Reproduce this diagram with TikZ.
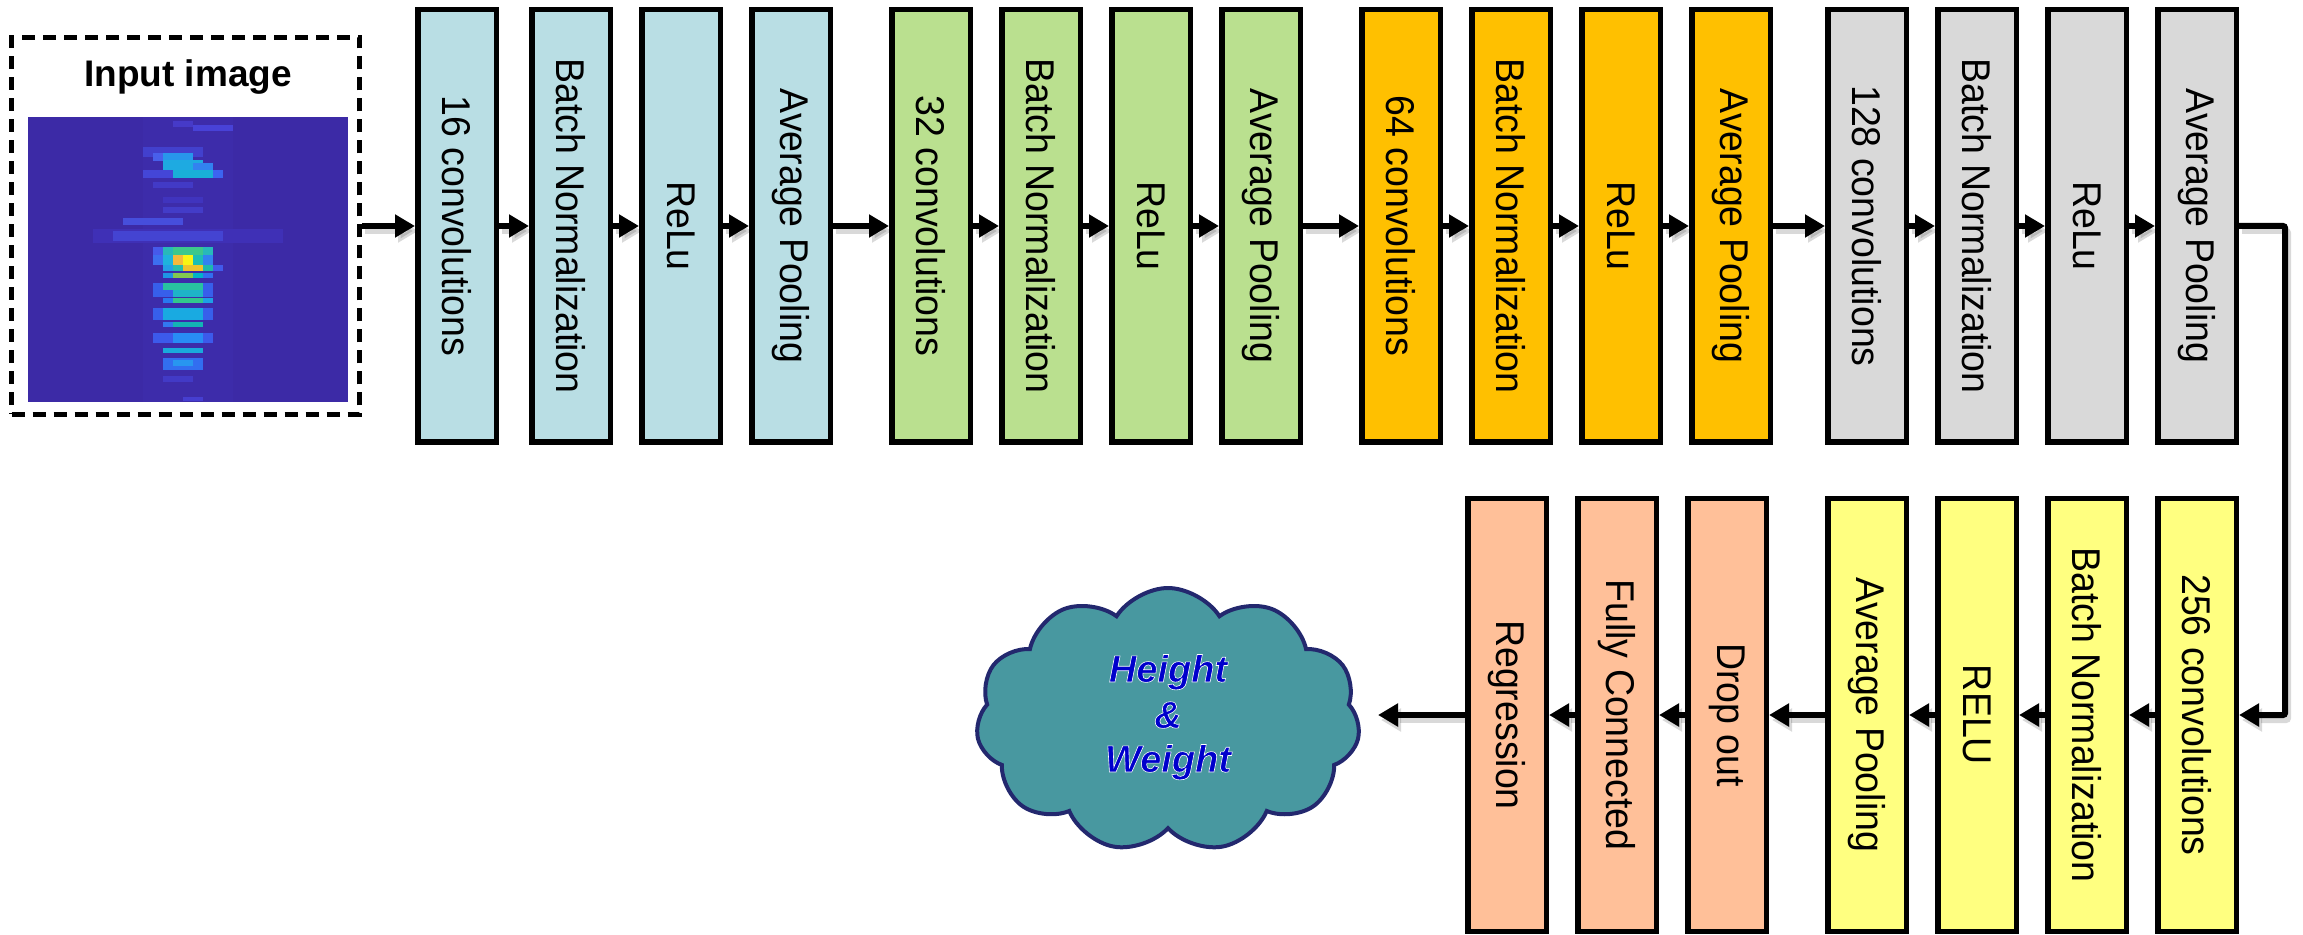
\documentclass[tikz,border=0pt]{standalone}
\usepackage{fontspec}
\usepackage{graphicx}
\setmainfont{Liberation Sans}
\usetikzlibrary{arrows.meta,shapes.symbols}

% layer fills
\definecolor{convA}{RGB}{185,222,228}
\definecolor{convB}{RGB}{186,224,143}
\definecolor{convC}{RGB}{255,192,0}
\definecolor{convD}{RGB}{217,217,217}
\definecolor{convE}{RGB}{255,255,128}
\definecolor{headF}{RGB}{255,192,153}
\definecolor{cloudfill}{RGB}{72,152,160}
\definecolor{cloudline}{RGB}{35,40,110}
\definecolor{outtext}{RGB}{0,0,204}

\newcommand\turnedtext[1]{\rotatebox{-90}{\scalebox{1}[1.07]{#1}}}
% glyphs filled in the current colour and outlined in white
\newcommand\haloed[1]{\special{pdf:literal direct 2 Tr 0.3 w 1 1 1 RG}#1\special{pdf:literal direct 0 Tr}}
% one cell of the heat map: x, y, w, h, r, g, b
\newcommand\hm[7]{\fill[fill={rgb,255:red,#5;green,#6;blue,#7}] (#1,#2) rectangle ++(#3,#4);}

\tikzset{
  layer/.style={draw=black, line width=2.75pt, minimum width=39.25pt,
    minimum height=216.25pt, inner sep=0pt,
    font=\fontsize{18.75}{22}\selectfont},
  flow/.style={line width=3pt, -{Triangle[length=10pt,width=11pt]},
    preaction={draw=black, opacity=0.15, line width=3pt,
      transform canvas={shift={(1.5pt,-2.5pt)}}}},
  outlabel/.style={anchor=base, text=outtext,
    font=\bfseries\itshape\fontsize{19}{22}\selectfont},
}

\begin{document}
\begin{tikzpicture}[x=0.5pt, y=-0.5pt]
\useasboundingbox (0,0) rectangle (2303,935);

% ---- input image ----
\node[draw, line width=2.5pt, dash pattern=on 6.5pt off 4pt,
      minimum width=174pt, minimum height=188.5pt, inner sep=0pt] (in) at (185.5,226) {};
\node[anchor=base, font=\bfseries\fontsize{18.5}{22}\selectfont] (title) at (188,87) {Input image};

\hm{28}{117}{320}{285}{60}{42}{166}
\hm{143}{117}{90}{285}{61}{44}{170}
\hm{173}{121}{20}{6}{70}{58}{200}
\hm{193}{125}{40}{6}{72}{66}{215}
\hm{143}{147}{60}{10}{66}{64}{205}
\hm{153}{153}{20}{8}{72}{95}{235}
\hm{163}{153}{30}{12}{40}{150}{235}
\hm{163}{160}{40}{10}{30}{170}{225}
\hm{193}{163}{20}{7}{50}{130}{240}
\hm{143}{170}{30}{8}{68}{70}{215}
\hm{173}{170}{40}{8}{25}{175}{215}
\hm{213}{170}{10}{8}{60}{100}{240}
\hm{153}{182}{40}{6}{66}{58}{198}
\hm{163}{197}{40}{6}{64}{52}{190}
\hm{163}{207}{40}{6}{67}{60}{200}
\hm{123}{218}{60}{7}{70}{78}{220}
\hm{93}{229}{190}{14}{63}{48}{182}
\hm{113}{231}{110}{10}{68}{68}{210}
\hm{153}{247}{60}{8}{70}{90}{235}
\hm{163}{247}{50}{8}{40}{185}{185}
\hm{173}{247}{30}{8}{60}{200}{140}
\hm{153}{255}{10}{10}{60}{110}{240}
\hm{163}{255}{10}{10}{30}{180}{220}
\hm{173}{255}{10}{10}{245}{185}{60}
\hm{183}{255}{10}{10}{250}{245}{20}
\hm{193}{255}{10}{10}{30}{190}{180}
\hm{203}{255}{10}{10}{50}{130}{240}
\hm{163}{265}{10}{6}{35}{160}{230}
\hm{173}{265}{10}{6}{40}{190}{170}
\hm{183}{265}{20}{6}{240}{195}{45}
\hm{203}{265}{10}{6}{30}{185}{170}
\hm{213}{265}{10}{6}{65}{90}{235}
\hm{163}{273}{10}{5}{30}{150}{230}
\hm{173}{273}{20}{5}{130}{200}{80}
\hm{193}{273}{10}{5}{0}{180}{200}
\hm{203}{273}{10}{5}{50}{110}{240}
\hm{153}{283}{60}{14}{55}{95}{235}
\hm{163}{283}{40}{7}{40}{195}{160}
\hm{173}{290}{30}{7}{30}{180}{200}
\hm{163}{298}{10}{5}{40}{120}{240}
\hm{173}{298}{30}{5}{50}{200}{140}
\hm{203}{298}{10}{5}{30}{160}{230}
\hm{153}{308}{60}{12}{55}{95}{235}
\hm{163}{308}{40}{12}{25}{170}{225}
\hm{163}{322}{10}{5}{50}{120}{240}
\hm{173}{322}{30}{5}{20}{180}{180}
\hm{153}{333}{60}{10}{60}{90}{235}
\hm{173}{333}{30}{10}{40}{140}{245}
\hm{163}{348}{40}{5}{25}{170}{220}
\hm{163}{358}{40}{12}{50}{110}{240}
\hm{173}{360}{20}{6}{40}{150}{240}
\hm{163}{376}{30}{6}{66}{58}{198}
\hm{183}{397}{20}{4}{70}{62}{208}

% ---- top row ----
\node[layer, fill=convA] (a1) at (457,226)  {\turnedtext{16 convolutions}};
\node[layer, fill=convA] (a2) at (571,226)  {\turnedtext{Batch Normalization}};
\node[layer, fill=convA] (a3) at (681,226)  {\turnedtext{ReLu}};
\node[layer, fill=convA] (a4) at (791,226)  {\turnedtext{Average Pooling}};
\node[layer, fill=convB] (b1) at (931,226)  {\turnedtext{32 convolutions}};
\node[layer, fill=convB] (b2) at (1041,226) {\turnedtext{Batch Normalization}};
\node[layer, fill=convB] (b3) at (1151,226) {\turnedtext{ReLu}};
\node[layer, fill=convB] (b4) at (1261,226) {\turnedtext{Average Pooling}};
\node[layer, fill=convC] (c1) at (1401,226) {\turnedtext{64 convolutions}};
\node[layer, fill=convC] (c2) at (1511,226) {\turnedtext{Batch Normalization}};
\node[layer, fill=convC] (c3) at (1621,226) {\turnedtext{ReLu}};
\node[layer, fill=convC] (c4) at (1731,226) {\turnedtext{Average Pooling}};
\node[layer, fill=convD] (d1) at (1867,226) {\turnedtext{128 convolutions}};
\node[layer, fill=convD] (d2) at (1977,226) {\turnedtext{Batch Normalization}};
\node[layer, fill=convD] (d3) at (2087,226) {\turnedtext{ReLu}};
\node[layer, fill=convD] (d4) at (2197,226) {\turnedtext{Average Pooling}};

% ---- bottom row ----
\node[layer, fill=convE] (e1) at (2197,715) {\turnedtext{256 convolutions}};
\node[layer, fill=convE] (e2) at (2087,715) {\turnedtext{Batch Normalization}};
\node[layer, fill=convE] (e3) at (1977,715) {\turnedtext{RELU}};
\node[layer, fill=convE] (e4) at (1867,715) {\turnedtext{Average Pooling}};
\node[layer, fill=headF] (f1) at (1727,715) {\turnedtext{Drop out}};
\node[layer, fill=headF] (f2) at (1617,715) {\turnedtext{Fully Connected}};
\node[layer, fill=headF] (f3) at (1507,715) {\turnedtext{Regression}};

% ---- output cloud ----
\node[cloud, cloud puffs=11, cloud puff arc=115, aspect=1.45, draw=cloudline,
      line width=2pt, fill=cloudfill, minimum width=192pt, minimum height=132pt,
      inner sep=0pt] (cloud) at (1168,720) {};
\node[outlabel] (h1) at (1168,682) {\haloed{Height}};
\node[outlabel] (h2) at (1168,728) {\haloed{\&}};
\node[outlabel] (h3) at (1168,772) {\haloed{Weight}};

% ---- connectors ----
\draw[flow] (in) -- (a1);
\draw[flow] (a1) -- (a2);
\draw[flow] (a2) -- (a3);
\draw[flow] (a3) -- (a4);
\draw[flow] (a4) -- (b1);
\draw[flow] (b1) -- (b2);
\draw[flow] (b2) -- (b3);
\draw[flow] (b3) -- (b4);
\draw[flow] (b4) -- (c1);
\draw[flow] (c1) -- (c2);
\draw[flow] (c2) -- (c3);
\draw[flow] (c3) -- (c4);
\draw[flow] (c4) -- (d1);
\draw[flow] (d1) -- (d2);
\draw[flow] (d2) -- (d3);
\draw[flow] (d3) -- (d4);
\draw[flow, rounded corners=1pt] (d4.east) -- ++(46,0) |- (e1.east);
\draw[flow] (e1) -- (e2);
\draw[flow] (e2) -- (e3);
\draw[flow] (e3) -- (e4);
\draw[flow] (e4) -- (f1);
\draw[flow] (f1) -- (f2);
\draw[flow] (f2) -- (f3);
\draw[flow] (f3.west) -- ++(-87,0);
\end{tikzpicture}
\end{document}
